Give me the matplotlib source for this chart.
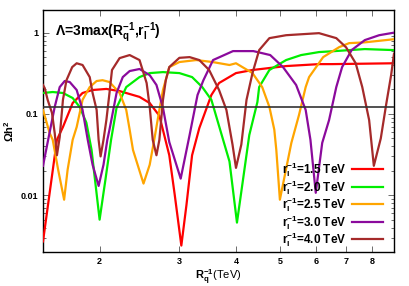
import matplotlib
matplotlib.use("Agg")
import matplotlib.pyplot as plt
from matplotlib.ticker import FixedLocator, NullFormatter, LogLocator

plt.rcParams['font.family'] = ['Liberation Sans', 'DejaVu Sans']
plt.rcParams['font.weight'] = 'bold'
plt.rcParams['mathtext.fontset'] = 'custom'
plt.rcParams['mathtext.rm'] = 'Liberation Sans:bold'
plt.rcParams['mathtext.it'] = 'Liberation Sans:bold'
plt.rcParams['mathtext.bf'] = 'Liberation Sans:bold'
plt.rcParams['mathtext.default'] = 'rm'

# ---- data (Rq^-1 in TeV, Omega h^2) ----
red_x = [1.50, 1.61, 1.66, 1.744, 1.834, 1.93, 2.07, 2.214, 2.45, 2.58, 2.71, 2.85, 2.93, 3.03,
         3.11, 3.20, 3.32, 3.53, 3.67, 4.0, 4.35, 4.74, 5.16, 6.10, 6.52, 8.93]
red_y = [0.0027, 0.048, 0.069, 0.136, 0.181, 0.197, 0.203, 0.191, 0.162, 0.136, 0.095, 0.031, 0.0101, 0.0024,
         0.0076, 0.031, 0.067, 0.171, 0.24, 0.318, 0.347, 0.367, 0.388, 0.41, 0.41, 0.42]

green_x = [1.50, 1.576, 1.66, 1.744, 1.807, 1.87, 1.92, 2.0, 2.06, 2.12, 2.18, 2.29, 2.45, 2.58, 2.76,
           3.0, 3.20, 3.37, 3.53, 3.87, 4.02, 4.28, 4.46, 4.50, 4.74, 5.16, 5.57, 6.10, 6.52, 7.7, 8.93]
green_y = [0.181, 0.186, 0.181, 0.157, 0.122, 0.078, 0.036, 0.0050, 0.0155, 0.048, 0.119, 0.214, 0.284, 0.318, 0.327,
           0.318, 0.284, 0.214, 0.149, 0.026, 0.0046, 0.055, 0.14, 0.214, 0.347, 0.46, 0.53, 0.577, 0.59, 0.628, 0.61]

orange_x = [1.50, 1.552, 1.576, 1.62, 1.67, 1.70, 1.744, 1.78, 1.834, 1.902, 1.97, 2.03, 2.103, 2.214, 2.29,
            2.33, 2.37, 2.50, 2.58, 2.64, 2.71, 2.76, 2.85, 3.0, 3.27, 3.55, 3.87, 4.0, 4.35, 4.57, 4.74,
            4.86, 4.91, 5.0, 5.30, 5.51, 5.70, 5.80, 6.23, 6.76, 7.11, 7.7, 8.93]
orange_y = [0.112, 0.058, 0.048, 0.0206, 0.0088, 0.0206, 0.048, 0.069, 0.149, 0.214, 0.254, 0.26, 0.247, 0.181, 0.112,
            0.064, 0.036, 0.0139, 0.0237, 0.048, 0.112, 0.197, 0.377, 0.435, 0.46, 0.435, 0.40, 0.42, 0.318, 0.214, 0.122,
            0.064, 0.036, 0.0088, 0.044, 0.097, 0.214, 0.284, 0.50, 0.664, 0.743, 0.76, 0.83]

purple_x = [1.50, 1.552, 1.592, 1.633, 1.675, 1.718, 1.78, 1.834, 1.883, 1.93, 1.99, 2.04, 2.08, 2.103, 2.18,
            2.25, 2.33, 2.45, 2.58, 2.67, 2.76, 2.85, 3.02, 3.16, 3.29, 3.39, 3.56, 3.94, 4.37, 4.76, 5.08,
            5.43, 5.70, 5.84, 6.0, 6.2, 6.42, 6.66, 6.86, 7.2, 7.7, 8.28, 8.93]
purple_y = [0.023, 0.060, 0.122, 0.214, 0.254, 0.247, 0.197, 0.112, 0.048, 0.0237, 0.013, 0.0237, 0.048, 0.064, 0.181,
            0.284, 0.337, 0.357, 0.30, 0.227, 0.119, 0.045, 0.016, 0.055, 0.171, 0.26, 0.46, 0.593, 0.593, 0.53, 0.377,
            0.227, 0.112, 0.048, 0.0107, 0.044, 0.084, 0.214, 0.377, 0.61, 0.81, 0.93, 1.0]

brown_x = [1.50, 1.513, 1.536, 1.57, 1.592, 1.61, 1.633, 1.66, 1.69, 1.74, 1.78, 1.834, 1.902, 1.93, 1.97,
           1.99, 2.01, 2.04, 2.07, 2.103, 2.13, 2.214, 2.33, 2.45, 2.54, 2.58, 2.62, 2.67, 2.71, 2.76, 2.80,
           2.85, 3.0, 3.16, 3.32, 3.49, 3.67, 3.81, 3.93, 4.0, 4.11, 4.22, 4.35, 4.50, 4.74, 5.16, 6.10,
           6.66, 7.0, 7.35, 7.6, 7.87, 8.06, 8.35, 8.58, 8.8, 8.93]
brown_y = [0.227, 0.208, 0.149, 0.103, 0.058, 0.031, 0.052, 0.149, 0.26, 0.377, 0.42, 0.40, 0.284, 0.181, 0.112,
           0.048, 0.030, 0.048, 0.084, 0.181, 0.347, 0.486, 0.53, 0.46, 0.24, 0.122, 0.048, 0.031, 0.048, 0.149, 0.26,
           0.377, 0.49, 0.50, 0.46, 0.347, 0.197, 0.112, 0.042, 0.0217, 0.042, 0.149, 0.318, 0.61, 0.856, 0.93, 0.986,
           0.856, 0.66, 0.42, 0.214, 0.084, 0.023, 0.050, 0.13, 0.30, 0.55]

omega_obs = 0.12
series = [
    (red_x, red_y, r'$r_l^{-1}$=1.5 TeV', '#ff0000'),
    (green_x, green_y, r'$r_l^{-1}$=2.0 TeV', '#00ee00'),
    (orange_x, orange_y, r'$r_l^{-1}$=2.5 TeV', '#ffa500'),
    (purple_x, purple_y, r'$r_l^{-1}$=3.0 TeV', '#8b0a9c'),
    (brown_x, brown_y, r'$r_l^{-1}$=4.0 TeV', '#a52a2a'),
]
xticks = [2, 3, 4, 5, 6, 7, 8]
yticks = [0.01, 0.1, 1]
yticklabels = ['0.01', '0.1', '1']

fig = plt.figure(figsize=(4.09, 2.86), dpi=100)
ax = fig.add_axes([43/409, 1-252/286, 351/409, 242/286])

for x, y, lab, c in series:
    ax.plot(x, y, color=c, lw=1.6, label=lab, zorder=3, solid_joinstyle='round')
ax.axhline(omega_obs, color='#333333', lw=1.2, zorder=4)

ax.set_xscale('log')
ax.set_yscale('log')
ax.set_xlim(1.5, 8.93)
ax.set_ylim(0.002, 1.9)

ax.xaxis.set_major_locator(FixedLocator(xticks))
ax.set_xticklabels([str(t) for t in xticks])
ax.xaxis.set_minor_locator(FixedLocator([]))
ax.yaxis.set_major_locator(FixedLocator(yticks))
ax.set_yticklabels(yticklabels)
ax.yaxis.set_minor_locator(LogLocator(base=10, subs=range(2, 10)))
ax.yaxis.set_minor_formatter(NullFormatter())

ax.tick_params(which='both', direction='in', top=True, right=True, labelsize=6.5, width=0.6, color='#555555')
ax.tick_params(which='major', length=4)
ax.tick_params(which='minor', length=2)
for lab in ax.get_xticklabels() + ax.get_yticklabels():
    lab.set_fontweight('bold')
for s in ax.spines.values():
    s.set_linewidth(1.0)

ax.set_xlabel(r'$R_q^{-1}$(TeV)', fontsize=8, labelpad=1)
ax.set_ylabel(r'$\Omega h^2$', fontsize=8, labelpad=3)

ax.text(0.034, 0.905, r'$\Lambda$=3max($R_q^{-1}$,$r_l^{-1}$)', transform=ax.transAxes,
        fontsize=10, va='center', ha='left')

leg = ax.legend(loc='lower right', bbox_to_anchor=((383-43)/351, 0.012), frameon=False,
                markerfirst=False, fontsize=8.5, handlelength=2.6, handletextpad=0.5,
                labelspacing=-0.1, borderpad=0, borderaxespad=0)
for h in leg.get_lines():
    h.set_linewidth(1.6)

fig.savefig('out.png', dpi=100)
